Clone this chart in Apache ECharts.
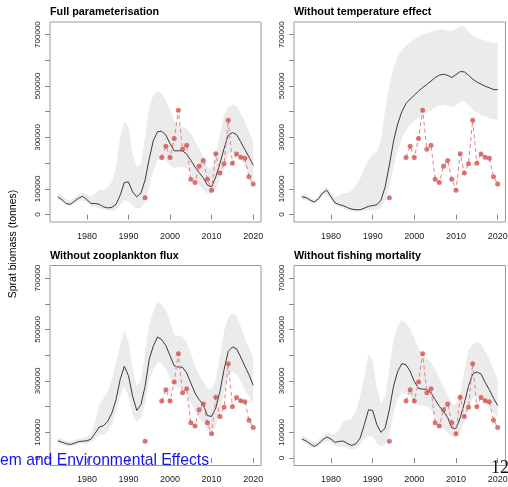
<!DOCTYPE html>
<html>
<head>
<meta charset="utf-8">
<script src="https://cdn.jsdelivr.net/npm/echarts@6/dist/echarts.min.js"></script>
<style>html,body{margin:0;padding:0;background:#fff;}#c{width:508px;height:487px;}</style>
</head>
<body>
<div id="c"></div>
<script>
// years of model output
var years = [];
for (var y = 1973; y <= 2020; y++) years.push(y);

// values in thousand tonnes
var panelTitles = ["Full parameterisation", "Without temperature effect", "Without zooplankton flux", "Without fishing mortality"];

var line1 = [69,58,43,40,52,64,71,58,43,43, 40,30,26,28,40,75,125,127,88,69, 84,134,218,289,322,324,309,276,248,248, 248,235,211,185,163,143,114,108,147,198, 257,309,319,311,283,253,224,192];
var upper1 = [84,75,60,56,66,79,84,78,69,82, 97,97,108,127,185,302,364,341,237,185, 198,302,419,464,481,471,445,406,367,348, 341,335,315,283,257,224,185,179,237,315, 386,419,429,422,393,361,322,283];
var lower1 = [58,49,36,32,43,52,56,45,32,30, 27,19,16,14,19,36,56,53,34,23, 27,49,108,172,211,218,211,192,179,185, 185,179,160,134,114,95,82,79,101,140, 185,231,244,235,214,189,166,140];

var line2 = [69,66,56,49,62,84,95,69,45,39, 34,27,21,19,19,25,32,35,38,56, 108,192,285,352,400,432,449,464,480,494, 506,519,533,542,546,541,533,544,556,555, 542,527,516,507,499,493,486,486];
var upper2 = [82,79,66,58,75,97,108,82,69,75, 84,84,95,114,140,179,214,235,244,289, 406,503,571,613,639,656,669,682,691,700, 704,713,717,720,720,715,713,724,733,730, 711,694,687,682,677,672,668,668];
var lower2 = [60,56,45,40,52,71,78,58,39,30, 23,17,13,12,12,14,17,17,19,27, 56,108,185,250,296,328,348,364,377,386, 396,406,416,424,428,422,416,424,438,441, 425,409,396,386,380,375,371,371];

var line3 = [67,62,56,53,58,64,66,67,74,97, 121,126,143,175,227,305,357,320,240,185, 208,279,385,437,471,460,437,398,359,354, 353,331,292,253,227,208,165,162,195,259, 344,415,432,425,393,357,324,283];
var upper3 = [82,75,67,65,71,75,78,82,97,143, 208,233,259,305,370,441,493,454,344,279, 305,409,519,571,610,597,577,532,480,476, 473,447,409,357,324,298,272,270,305,396, 493,549,562,554,512,467,428,389];
var lower3 = [58,53,47,45,49,54,56,57,61,74, 91,91,104,130,175,240,279,240,169,139, 156,214,305,344,376,367,346,311,281,276, 272,250,214,182,156,136,104,100,123,175, 259,320,335,328,298,266,240,208];

var line4 = [74,67,56,45,56,71,82,74,61,65, 66,56,49,56,78,130,188,185,130,100, 117,188,279,337,367,363,337,298,271,268, 267,253,227,201,182,158,117,115,156,214, 279,327,335,327,294,266,233,204];
var upper4 = [87,82,69,61,71,87,100,95,91,110, 143,147,156,182,240,315,406,376,272,214, 240,350,460,512,538,525,502,467,428,402, 389,372,344,311,279,243,211,208,253,337, 422,441,451,445,415,383,344,305];
var lower4 = [65,58,45,39,45,58,65,58,48,45, 45,39,32,35,52,78,84,84,56,45, 52,91,175,233,253,250,240,214,204,204, 201,188,162,134,113,97,84,84,104,143, 195,233,240,233,217,195,175,156];

// observed survey biomass
var obsYears = [1994,1995,1996,1997,1998,1999,2000,2001,2002,2003,2004,2005,2006,2007,2008,2009,2010,2011,2012,2013,2014,2015,2016,2017,2018,2019,2020];
var obsValues = [65,null,null,null,222,266,222,296,406,254,270,137,125,188,210,137,95,237,162,198,367,200,236,223,219,147,119];

var xTicks = [1980, 1990, 2000, 2010, 2020];
var yTicks = [0, 100, 200, 300, 400, 500, 600, 700];
var yLabels = [0, 100, 300, 500, 700];

var models = [[line1, upper1, lower1], [line2, upper2, lower2], [line3, upper3, lower3], [line4, upper4, lower4]];

var gridPos = [
  {left: 50, top: 22, width: 211, height: 200},
  {left: 294, top: 22, width: 211.5, height: 200},
  {left: 50, top: 265.5, width: 211, height: 200},
  {left: 294, top: 265.5, width: 211.5, height: 200}
];
var titleTops = [6.5, 6.5, 251, 251];

function pairs(xs, ys) { return xs.map(function (x, i) { return [x, ys[i]]; }); }

function bandRenderer(upper, lower) {
  return function (params, api) {
    var pts = [];
    for (var i = 0; i < years.length; i++) pts.push(api.coord([years[i], upper[i]]));
    for (var j = years.length - 1; j >= 0; j--) pts.push(api.coord([years[j], lower[j]]));
    return {type: 'polygon', shape: {points: pts}, style: {fill: '#ebebeb', stroke: null}};
  };
}

var font = 'Liberation Sans, Arial, sans-serif';
var grids = [], xAxes = [], yAxes = [], series = [], titles = [];
for (var p = 0; p < 4; p++) {
  var g = gridPos[p];
  grids.push({left: g.left, top: g.top, width: g.width, height: g.height, show: true,
    borderColor: '#9a9a9a', borderWidth: 1, backgroundColor: 'transparent', containLabel: false, outerBoundsMode: 'none'});
  xAxes.push({type: 'value', gridIndex: p, min: 1971.12, max: 2021.88,
    axisLine: {show: false},
    splitLine: {show: false},
    axisTick: {show: true, inside: false, length: 5, lineStyle: {color: '#8a8a8a'}, customValues: xTicks},
    axisLabel: {show: true, margin: 10, fontSize: 9, color: '#222', fontFamily: font, customValues: xTicks,
      formatter: function (v) { return String(v); }}
  });
  yAxes.push({type: 'value', gridIndex: p, min: -28.8, max: 748.8,
    axisLine: {show: false},
    splitLine: {show: false},
    axisTick: {show: true, inside: false, length: 5, lineStyle: {color: '#8a8a8a'}, customValues: yTicks},
    axisLabel: {show: true, rotate: 90, margin: 8, fontSize: 8, color: '#222', fontFamily: font,
      customValues: yLabels, formatter: function (v) { return String(Math.round(v * 1000)); }}
  });
  titles.push({text: panelTitles[p], left: g.left, top: titleTops[p], padding: 0,
    textStyle: {fontSize: 10.8, fontWeight: 'bold', color: '#000', fontFamily: font}});
  var m = models[p];
  series.push({type: 'custom', xAxisIndex: p, yAxisIndex: p, data: [[years[0], m[2][0]]],
    renderItem: bandRenderer(m[1], m[2]), silent: true, z: 1});
  series.push({type: 'line', xAxisIndex: p, yAxisIndex: p, data: pairs(years, m[0]),
    symbol: 'none', lineStyle: {color: '#3a3a3a', width: 1}, z: 3});
  series.push({type: 'line', xAxisIndex: p, yAxisIndex: p, data: pairs(obsYears, obsValues),
    symbol: 'none', connectNulls: false, lineStyle: {color: '#e08585', width: 1, type: [4, 3]}, z: 4});
  series.push({type: 'scatter', xAxisIndex: p, yAxisIndex: p, data: pairs(obsYears, obsValues).filter(function (d) { return d[1] !== null; }),
    symbol: 'circle', symbolSize: 5, itemStyle: {color: '#d25353'}, z: 5});
}

var chart = echarts.init(document.getElementById('c'), null, {renderer: 'canvas'});
chart.setOption({
  animation: false,
  backgroundColor: '#fff',
  title: titles,
  grid: grids,
  xAxis: xAxes,
  yAxis: yAxes,
  series: series,
  graphic: [
    {type: 'text', x: 13, y: 244, rotation: Math.PI / 2,
      style: {text: 'Sprat biomass (tonnes)', fontSize: 10.5, fill: '#000', fontFamily: font, textAlign: 'center', textVerticalAlign: 'middle'}},
    {type: 'text', x: 0, y: 469, z: 100,
      style: {text: 'em and Environmental Effects', fontSize: 15.7, fill: '#1515f0', fontFamily: font, textAlign: 'left', textVerticalAlign: 'bottom'}},
    {type: 'text', x: 509, y: 477, z: 100,
      style: {text: '12', fontSize: 18, fill: '#111', fontFamily: 'Liberation Serif, serif', textAlign: 'right', textVerticalAlign: 'bottom'}}
  ]
});
</script>
</body>
</html>
